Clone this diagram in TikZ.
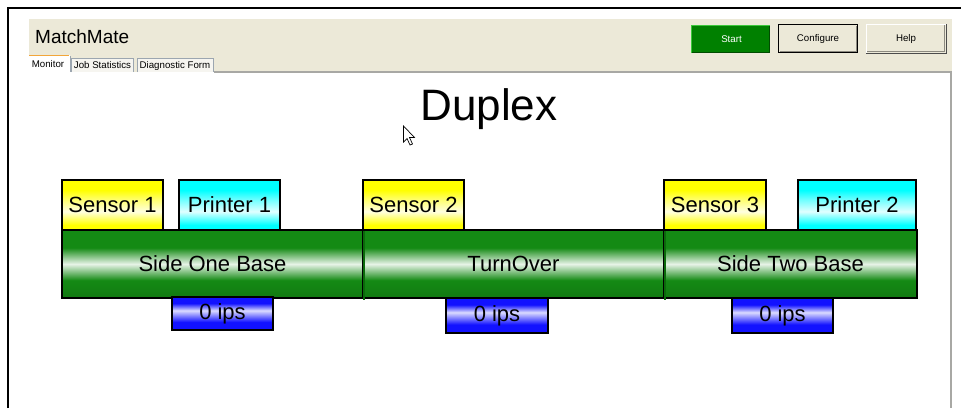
\documentclass[tikz,border=0pt]{standalone}
\usepackage{fontspec}
\setmainfont{Liberation Sans}
\usetikzlibrary{shadings}
\definecolor{beige}{HTML}{ECE9D8}
\definecolor{panelgray}{HTML}{A8A8A4}
\definecolor{tabedge}{HTML}{9CA6B0}
\definecolor{tabfill}{HTML}{F6F5F0}
\definecolor{taborange}{HTML}{F2A63A}
\definecolor{startgreen}{HTML}{008000}
\definecolor{startlight}{HTML}{3CC83C}
\definecolor{startdark}{HTML}{004C00}
\definecolor{btngray}{HTML}{8C8A80}
\definecolor{gband}{HTML}{148A14}
\definecolor{gdark}{HTML}{0B6A0B}
\definecolor{ybox}{HTML}{FFFF00}
\definecolor{cbox}{HTML}{00FFFF}
\definecolor{bbox}{HTML}{1212FF}
% shadings: 0bp bottom .. 100bp top, path mapped to 25bp..75bp
\pgfdeclareverticalshading{yelsh}{100bp}{color(0bp)=(ybox); color(25bp)=(ybox); color(30bp)=(ybox); color(43.5bp)=(ybox!12!white); color(55bp)=(ybox!55!white); color(65bp)=(ybox); color(75bp)=(ybox); color(100bp)=(ybox)}
\pgfdeclareverticalshading{cyansh}{100bp}{color(0bp)=(cbox); color(25bp)=(cbox); color(30bp)=(cbox); color(43.5bp)=(cbox!12!white); color(55bp)=(cbox!55!white); color(65bp)=(cbox); color(75bp)=(cbox); color(100bp)=(cbox)}
\pgfdeclareverticalshading{greensh}{100bp}{color(0bp)=(gband); color(25bp)=(gband!88!black); color(38bp)=(gband); color(50bp)=(gband!10!white); color(62bp)=(gband); color(75bp)=(gband); color(100bp)=(gband)}
\pgfdeclareverticalshading{bluesh}{100bp}{color(0bp)=(bbox); color(25bp)=(bbox); color(37bp)=(bbox); color(54.5bp)=(bbox!15!white); color(65.5bp)=(bbox); color(75bp)=(bbox); color(100bp)=(bbox)}
\tikzset{
  dev/.style={draw=black, line width=1.5pt, rectangle, inner sep=0pt, minimum height=50pt, font=\fontsize{22}{26}\selectfont},
  sensorbox/.style={dev, shading=yelsh},
  printerbox/.style={dev, shading=cyansh},
  bandbox/.style={draw=black, line width=1.5pt, rectangle, inner sep=0pt, minimum height=68pt, shading=greensh, font=\fontsize{22}{26}\selectfont},
  ipsbox/.style={draw=black, line width=1.5pt, rectangle, inner sep=0pt, minimum width=101pt, font=\fontsize{22}{26}\selectfont, shading=bluesh},
  btnlabel/.style={font=\fontsize{9.7}{11}\selectfont, inner sep=0pt},
  tablabel/.style={font=\fontsize{9.7}{11}\selectfont, inner sep=0pt, anchor=base},
}
\begin{document}
\begin{tikzpicture}[x=1pt,y=-1pt]
\useasboundingbox (0,0) rectangle (961,408);
\fill[white] (0,0) rectangle (961,408);
% outer frame
\draw[line width=2pt] (8,408) -- (8,8) -- (961,8);
% header panel
\fill[beige] (29,19) rectangle (952,72);
% content panel
\fill[white] (29,72) rectangle (951,408);
\draw[panelgray, line width=1.2pt] (214,72) -- (951,72) -- (951,408);
% title
\node[anchor=base west, inner sep=0pt, font=\fontsize{19}{22}\selectfont] (title) at (35,43) {MatchMate};
% tabs
\fill[white] (29,55) rectangle (70,73);
\draw[taborange, line width=1.6pt] (29,55.5) -- (69,55.5);
\draw[tabedge, line width=0.8pt] (70,56) -- (70,72);
\draw[tabedge, line width=0.8pt, fill=tabfill] (71,72) -- (71,58) -- (133,58) -- (133,72);
\draw[tabedge, line width=0.8pt, fill=tabfill] (137,72) -- (137,58) -- (213,58) -- (213,72);
\node[tablabel] (tabmon) at (48,67.5) {Monitor};
\node[tablabel] (tabjob) at (102.5,68.5) {Job Statistics};
\node[tablabel] (tabdiag) at (175,68.5) {Diagnostic Form};
% buttons
\fill[startgreen] (691,25) rectangle (770,53);
\draw[startlight, line width=1pt] (691.5,52.5) -- (691.5,25.5) -- (769.5,25.5);
\draw[startdark, line width=1pt] (691.5,52.5) -- (769.5,52.5) -- (769.5,25.5);
\node[btnlabel, text=white] (start) at (731.5,39.5) {Start};
\fill[beige] (778,24) rectangle (858,53);
\draw[black, line width=1pt] (778.5,24.5) rectangle (857.5,52.5);
\draw[btngray, line width=0.8pt] (780,51) -- (856,51) -- (856,26);
\node[btnlabel] (config) at (818,39) {Configure};
\fill[beige] (866,24) rectangle (946,53);
\draw[white, line width=1pt] (866.5,52.5) -- (866.5,24.5) -- (945.5,24.5);
\draw[btngray, line width=1pt] (867,51.5) -- (944.5,51.5) -- (944.5,25);
\draw[black!70, line width=1pt] (866,53) -- (946,53) -- (946,24);
\node[btnlabel] (help) at (906,39) {Help};
% heading
\node[anchor=base, inner sep=0pt, font=\fontsize{44}{50}\selectfont] (duplex) at (489,120) {Duplex};
% cursor
\draw[black, fill=white, line width=0.7pt, line join=miter] (403.5,126) -- (403.5,142) -- (407,138.5) -- (410,145) -- (412.5,144) -- (409.5,137.5) -- (414.5,137.5) -- cycle;
% base band
\node[bandbox, minimum width=301pt] (side1) at (212.5,264) {Side One Base};
\node[bandbox, minimum width=301pt] (turn) at (513.5,264) {TurnOver};
\node[bandbox, minimum width=253pt] (side2) at (790.5,264) {Side Two Base};
\draw[gdark, line width=1.6pt] (side1.north east) ++(0,1) -- ([yshift=-1pt]side1.south east);
\draw[gdark, line width=1.6pt] (turn.north east) ++(0,1) -- ([yshift=-1pt]turn.south east);
% sensors and printers
\node[sensorbox, minimum width=101pt] (s1) at (112.5,205) {Sensor 1};
\node[printerbox, minimum width=101pt] (p1) at (229.5,205) {Printer 1};
\node[sensorbox, minimum width=101pt] (s2) at (413.5,205) {Sensor 2};
\node[sensorbox, minimum width=102pt] (s3) at (715,205) {Sensor 3};
\node[printerbox, minimum width=118pt] (p2) at (857,205) {Printer 2};
% speed boxes
\node[ipsbox, minimum height=33pt] (v1) at (222.5,313.5) {0 ips};
\node[ipsbox, minimum height=35pt, minimum width=102pt] (v2) at (497,315.5) {0 ips};
\node[ipsbox, minimum height=35pt] (v3) at (782.5,315.5) {0 ips};
\end{tikzpicture}
\end{document}
